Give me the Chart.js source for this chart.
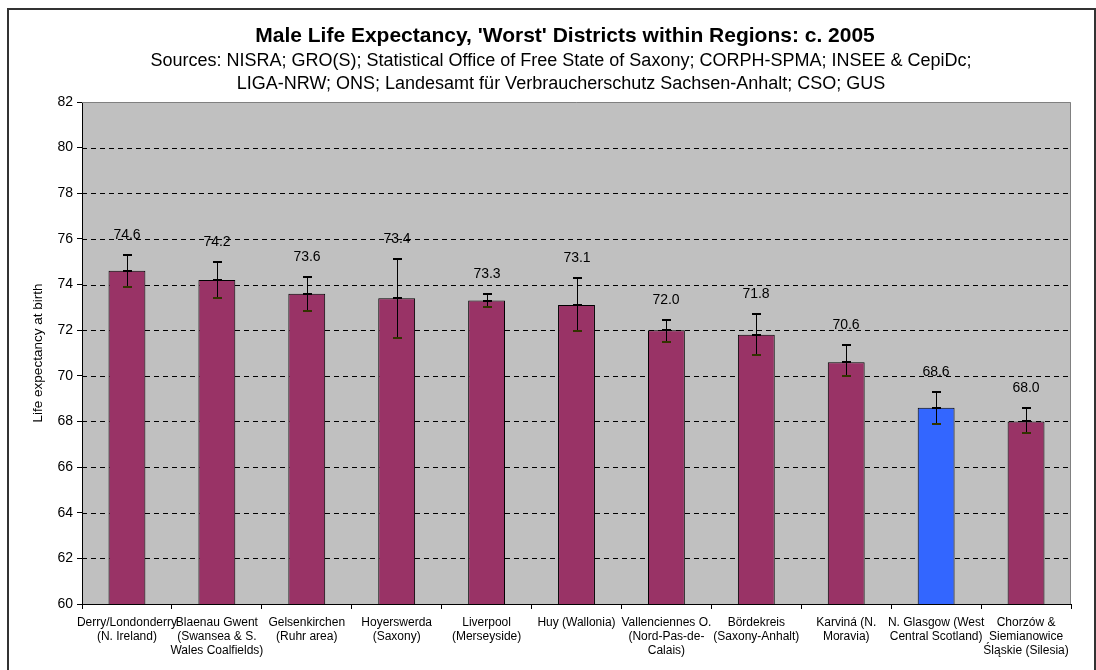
<!DOCTYPE html>
<html>
<head>
<meta charset="utf-8">
<script src="https://cdn.jsdelivr.net/npm/chart.js@4/dist/chart.umd.min.js"></script>
<style>
  html, body { margin: 0; padding: 0; background: #ffffff; }
  #wrap { width: 1096px; height: 670px; position: relative; }
</style>
</head>
<body>
<div id="wrap"><canvas id="c" width="1096" height="670"></canvas></div>
<script>
const chartTitle = "Male Life Expectancy, 'Worst' Districts within Regions: c. 2005";
const chartSubtitle = [
  "Sources: NISRA; GRO(S); Statistical Office of Free State of Saxony; CORPH-SPMA; INSEE & CepiDc;",
  "LIGA-NRW; ONS; Landesamt für Verbraucherschutz Sachsen-Anhalt; CSO; GUS"
];
const yAxisTitle = "Life expectancy at birth";
const categories = [
  ["Derry/Londonderry", "(N. Ireland)"],
  ["Blaenau Gwent", "(Swansea & S.", "Wales Coalfields)"],
  ["Gelsenkirchen", "(Ruhr area)"],
  ["Hoyerswerda", "(Saxony)"],
  ["Liverpool", "(Merseyside)"],
  ["Huy (Wallonia)"],
  ["Vallenciennes O.", "(Nord-Pas-de-", "Calais)"],
  ["Bördekreis", "(Saxony-Anhalt)"],
  ["Karviná (N.", "Moravia)"],
  ["N. Glasgow (West", "Central Scotland)"],
  ["Chorzów &", "Siemianowice", "Śląskie (Silesia)"]
];
const lifeExpectancy = [74.6, 74.2, 73.6, 73.4, 73.3, 73.1, 72.0, 71.8, 70.6, 68.6, 68.0];
const errorUpper = [75.3, 75.0, 74.35, 75.1, 73.6, 74.3, 72.45, 72.7, 71.35, 69.3, 68.6];
const errorLower = [73.9, 73.4, 72.85, 71.65, 73.0, 71.95, 71.5, 70.9, 70.0, 67.9, 67.5];
const highlightIndex = 9;
const yMin = 60, yMax = 82, yStep = 2;

const barColors = lifeExpectancy.map((v, i) => i === highlightIndex ? '#3366FF' : '#993366');
const FONT = "'Liberation Sans', Arial, sans-serif";

const decorPlugin = {
  id: 'decor',
  beforeDraw(chart) {
    const { ctx, chartArea: a } = chart;
    ctx.save();
    ctx.fillStyle = '#ffffff';
    ctx.fillRect(0, 0, chart.width, chart.height);
    ctx.fillStyle = '#C0C0C0';
    ctx.fillRect(a.left, a.top, a.right - a.left, a.bottom - a.top);
    ctx.restore();
  },
  beforeDatasetsDraw(chart) {
    const { ctx, chartArea: a, scales: { y } } = chart;
    ctx.save();
    ctx.strokeStyle = '#000000';
    ctx.lineWidth = 1;
    ctx.setLineDash([5, 4]);
    y.ticks.forEach(t => {
      if (t.value === yMin || t.value === yMax) return;
      const py = Math.round(y.getPixelForValue(t.value)) + 0.5;
      ctx.beginPath();
      ctx.moveTo(a.left, py);
      ctx.lineTo(a.right, py);
      ctx.stroke();
    });
    ctx.setLineDash([]);
    ctx.strokeStyle = '#808080';
    ctx.beginPath();
    ctx.moveTo(a.left, a.top + 0.5);
    ctx.lineTo(a.right - 0.5, a.top + 0.5);
    ctx.lineTo(a.right - 0.5, a.bottom);
    ctx.stroke();
    ctx.restore();
  },
  afterDatasetsDraw(chart) {
    const { ctx, scales: { x, y } } = chart;
    ctx.save();
    lifeExpectancy.forEach((v, i) => {
      const px = Math.round(x.getPixelForValue(i));
      const yu = Math.round(y.getPixelForValue(errorUpper[i]));
      const yl = Math.round(y.getPixelForValue(errorLower[i]));
      const yv = Math.round(y.getPixelForValue(v));
      ctx.strokeStyle = '#000000';
      ctx.lineWidth = 1;
      ctx.beginPath();
      ctx.moveTo(px + 0.5, yu);
      ctx.lineTo(px + 0.5, yl);
      ctx.stroke();
      ctx.lineWidth = 2;
      ctx.beginPath();
      ctx.moveTo(px - 4, yu); ctx.lineTo(px + 5, yu);
      ctx.moveTo(px - 4, yv); ctx.lineTo(px + 5, yv);
      ctx.stroke();
      ctx.strokeStyle = '#333300';
      ctx.beginPath();
      ctx.moveTo(px - 4, yl); ctx.lineTo(px + 5, yl);
      ctx.stroke();
      ctx.fillStyle = '#000000';
      ctx.font = '14px ' + FONT;
      ctx.textAlign = 'center';
      ctx.textBaseline = 'middle';
      ctx.fillText(v.toFixed(1), px, yu - 20);
    });
    ctx.restore();
  },
  afterDraw(chart) {
    const { ctx, chartArea: a } = chart;
    ctx.save();
    ctx.fillStyle = '#000000';
    ctx.textAlign = 'center';
    ctx.textBaseline = 'middle';
    ctx.font = 'bold 21px ' + FONT;
    ctx.fillText(chartTitle, 565, 36);
    ctx.font = '18px ' + FONT;
    ctx.fillText(chartSubtitle[0], 561, 61);
    ctx.fillText(chartSubtitle[1], 561, 84);
    ctx.save();
    ctx.translate(38, (a.top + a.bottom) / 2);
    ctx.rotate(-Math.PI / 2);
    ctx.font = '13.5px ' + FONT;
    ctx.fillText(yAxisTitle, 0, 0);
    ctx.restore();
    ctx.strokeStyle = '#333333';
    ctx.lineWidth = 2;
    ctx.strokeRect(8, 9, 1087, 670);
    ctx.restore();
  }
};

new Chart(document.getElementById('c'), {
  type: 'bar',
  data: {
    labels: categories,
    datasets: [{
      data: lifeExpectancy,
      backgroundColor: barColors,
      borderColor: '#000000',
      borderWidth: 1,
      categoryPercentage: 1.0,
      barPercentage: 0.41
    }]
  },
  options: {
    responsive: false,
    animation: false,
    devicePixelRatio: 1,
    layout: { padding: { top: 102, right: 25, bottom: 0, left: 0 } },
    plugins: { legend: { display: false }, tooltip: { enabled: false }, title: { display: false } },
    scales: {
      x: {
        grid: { drawOnChartArea: false, color: '#000000', tickLength: 5, offset: true },
        border: { color: '#000000', width: 1 },
        ticks: { color: '#000000', font: { family: FONT, size: 12 }, padding: 6, maxRotation: 0, autoSkip: false },
        afterFit(s) { s.height = 66; }
      },
      y: {
        min: yMin, max: yMax,
        grid: { drawOnChartArea: false, color: '#000000', tickLength: 5 },
        border: { color: '#000000', width: 1 },
        ticks: { stepSize: yStep, color: '#000000', font: { family: FONT, size: 14 }, padding: 4 },
        afterFit(s) { s.width = 82; }
      }
    }
  },
  plugins: [decorPlugin]
});
</script>
</body>
</html>
